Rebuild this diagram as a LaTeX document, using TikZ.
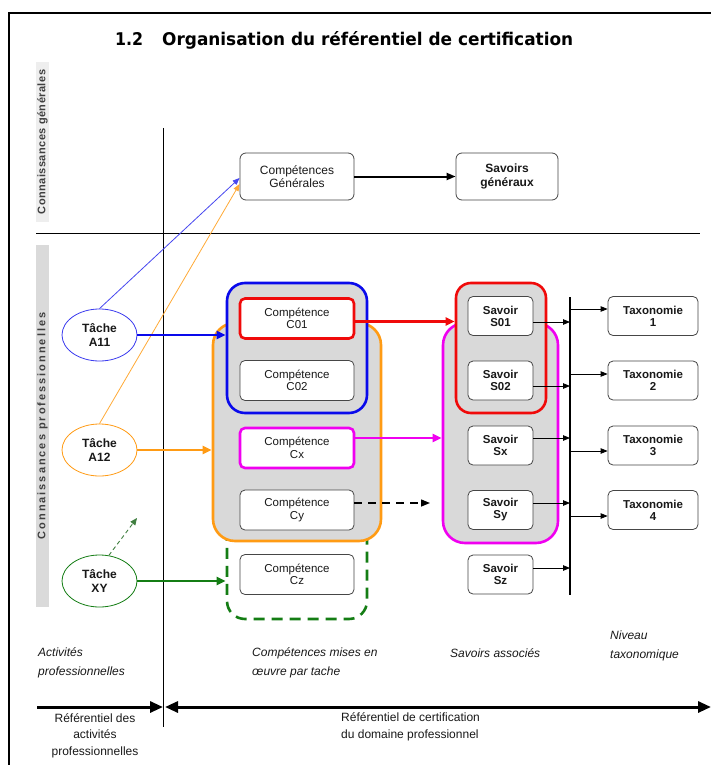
\documentclass[tikz,border=0pt]{standalone}
\usepackage{fontspec}
\setmainfont{Liberation Sans}
\newfontfamily\titlefont{DejaVu Sans}
\usetikzlibrary{arrows.meta,shapes.geometric,calc}
\definecolor{cblue}{RGB}{10,10,235}
\definecolor{cred}{RGB}{240,10,10}
\definecolor{cmag}{RGB}{240,0,240}
\definecolor{corange}{RGB}{255,155,20}
\definecolor{cgreen}{RGB}{20,125,20}
\definecolor{grpgray}{RGB}{217,217,217}
\definecolor{bandgray}{RGB}{218,218,218}
\definecolor{boxline}{RGB}{70,70,70}
\definecolor{txt}{RGB}{25,25,25}
\begin{document}
\begin{tikzpicture}[x=1pt,y=-1pt,
  box/.style={draw=boxline, line width=0.8pt, rounded corners=5pt, fill=white, align=center, inner sep=0pt, text=txt},
  cbox/.style={box, minimum width=114pt, minimum height=40pt, font=\fontsize{11.5}{12.5}\selectfont},
  sbox/.style={box, minimum width=65pt, minimum height=39pt, font=\bfseries\fontsize{11.5}{12}\selectfont},
  tbox/.style={box, minimum width=90pt, minimum height=39pt, font=\bfseries\fontsize{11.5}{12}\selectfont},
  task/.style={ellipse, draw, line width=0.8pt, minimum width=75pt, minimum height=52pt, inner sep=0pt, align=center, font=\bfseries\fontsize{12}{14}\selectfont, fill=white, text=txt},
  grp/.style={draw, rounded corners=#1, line width=2.6pt, fill=grpgray, inner sep=0pt},
  thinarrow/.style={line width=0.8pt, -{Triangle[length=7pt,width=5.5pt]}},
  thickarrow/.style={line width=2.6pt, -{Triangle[length=9pt,width=8pt]}},
  bigtip/.tip={Triangle[length=13pt,width=11pt]},
  lbl/.style={inner sep=0pt, align=left, text=txt, font=\itshape\fontsize{12}{19}\selectfont},
  reg/.style={inner sep=0pt, text=txt, font=\fontsize{12}{16.5}\selectfont},
  band/.style={rotate=90, inner sep=0pt, minimum height=13pt, text=black!75, font=\bfseries\fontsize{11}{11}\selectfont}
]
\useasboundingbox (0,0) rectangle (711,765);
\fill[white] (0,0) rectangle (711,765);

% frame
\coordinate (fBL) at (9,765);
\coordinate (fTL) at (9,13);
\coordinate (fTR) at (711,13);
\draw[line width=2.5pt] (fBL) -- (fTL) -- (fTR);

% title
\node[anchor=base west, inner sep=0pt] (tnum) at (115,46) {\resizebox{28pt}{13pt}{\titlefont\bfseries 1.2}};
\node[anchor=base west, inner sep=0pt] (ttl) at (162,46) {\resizebox{411pt}{14pt}{\titlefont\bfseries Organisation du référentiel de certification}};

% left bands
\node[band, fill=bandgray!45, minimum width=160pt] (kg) at (42.5,142) {\addfontfeatures{LetterSpace=4}Connaissances générales};
\node[band, fill=bandgray, minimum width=362pt] (kp) at (42.5,426) {\addfontfeatures{LetterSpace=18}Connaissances professionnelles};

% separators
\coordinate (hL) at (36,233);
\coordinate (hR) at (700,233);
\draw[line width=1pt] (hL) -- (hR);
\coordinate (vT) at (163,128);
\coordinate (vB) at (163,727);
\draw[line width=1pt] (vT) -- (vB);

% general row
\node[box, minimum width=114pt, minimum height=47pt, rounded corners=6pt, font=\fontsize{12}{13.5}\selectfont] (CG) at (297,176.5) {Compétences\\Générales};
\node[box, minimum width=102pt, minimum height=47pt, rounded corners=6pt, font=\bfseries\fontsize{12}{13.5}\selectfont] (SG) at (507,176.5) {Savoirs\\généraux};
\draw[line width=2pt, -{Triangle[length=9pt,width=7pt]}] (CG.east) -- (SG.west);

% groups
\node[draw=cgreen, line width=2.6pt, rounded corners=18pt, dash pattern=on 11pt off 7pt, minimum width=140pt, minimum height=119pt, inner sep=0pt] (gGreen) at (297,559.5) {};
\node[grp=22pt, draw=corange, minimum width=168pt, minimum height=218pt] (gOrange) at (297,432) {};
\node[grp=18pt, draw=cblue, minimum width=140pt, minimum height=130pt] (gBlue) at (297,348) {};
\node[grp=22pt, draw=cmag, minimum width=115pt, minimum height=220pt] (gMag) at (500.5,433) {};
\node[grp=15pt, draw=cred, minimum width=90pt, minimum height=130pt] (gRed) at (501,348) {};

% competences
\node[cbox, draw=cred, line width=2.6pt] (C01) at (297,318.5) {Compétence\\C01};
\node[cbox] (C02) at (297,380.5) {Compétence\\C02};
\node[cbox, draw=cmag, line width=2.6pt] (Cx) at (297,448) {Compétence\\Cx};
\node[cbox] (Cy) at (297,510) {Compétence\\Cy};
\node[cbox] (Cz) at (297,574.5) {Compétence\\Cz};

% savoirs
\node[sbox] (S01) at (500.5,316) {Savoir\\S01};
\node[sbox] (S02) at (500.5,380.5) {Savoir\\S02};
\node[sbox] (Sx) at (500.5,445.5) {Savoir\\Sx};
\node[sbox] (Sy) at (500.5,510) {Savoir\\Sy};
\node[sbox] (Sz) at (500.5,574.5) {Savoir\\Sz};

% taxonomies
\node[tbox] (T1) at (653,316) {Taxonomie\\1};
\node[tbox] (T2) at (653,380.5) {Taxonomie\\2};
\node[tbox] (T3) at (653,445.5) {Taxonomie\\3};
\node[tbox] (T4) at (653,510) {Taxonomie\\4};

% tasks
\node[task, draw=cblue!80] (A11) at (99.5,335) {Tâche\\A11};
\node[task, draw=corange] (A12) at (99.5,450) {Tâche\\A12};
\node[task, draw=cgreen] (XY) at (99.5,581) {Tâche\\XY};

% task connectors
\draw[thinarrow, cblue!75] (A11.north) -- ([yshift=-1.5pt]CG.west);
\draw[thinarrow, corange!85] (A12.north) -- ([yshift=-7.5pt]CG.west);
\draw[thickarrow, cblue] (A11.east) -- (A11.east -| gBlue.west);
\draw[thickarrow, corange] (A12.east) -- (A12.east -| gOrange.west);
\draw[thickarrow, cgreen] (XY.east) -- (XY.east -| gGreen.west);
\coordinate (xyEnd) at (137,518);
\draw[line width=0.9pt, dash pattern=on 4pt off 3pt, cgreen!60!gray, -{Triangle[length=7pt,width=6pt]}] (XY.70) -- (xyEnd);

% competence -> savoir connectors
\coordinate (c01o) at ([yshift=-3pt]C01.east);
\draw[thickarrow, cred] (c01o) -- (c01o -| gRed.west);
\coordinate (cxo) at ([yshift=10pt]Cx.east);
\draw[thickarrow, cmag] (cxo) -- (cxo -| gMag.west);
\coordinate (cyo) at ([yshift=7pt]Cy.east);
\coordinate (cyEnd) at (430,503);
\draw[line width=1.4pt, dash pattern=on 8pt off 6pt, -{Triangle[length=9pt,width=7pt]}] (cyo) -- (cyEnd);

% bus
\coordinate (busT) at (570,297);
\coordinate (busB) at (570,595);
\draw[line width=1.3pt] (busT) -- (busB);
\coordinate (s1o) at ([yshift=-6pt]S01.east);
\coordinate (s2o) at ([yshift=-5.5pt]S02.east);
\coordinate (sxo) at ([yshift=7.5pt]Sx.east);
\coordinate (syo) at ([yshift=7pt]Sy.east);
\coordinate (szo) at ([yshift=6.5pt]Sz.east);
\foreach \s in {s1o,s2o,sxo,syo,szo}
  \draw[thinarrow] (\s) -- (\s -| busT);
\coordinate (t1i) at ([yshift=7pt]T1.west);
\coordinate (t2i) at ([yshift=6.5pt]T2.west);
\coordinate (t3i) at ([yshift=-5.5pt]T3.west);
\coordinate (t4i) at ([yshift=-6pt]T4.west);
\foreach \t in {t1i,t2i,t3i,t4i}
  \draw[thinarrow] (\t -| busT) -- (\t);

% bottom captions
\node[lbl, anchor=west] (la) at (38,662.5) {Activités\\professionnelles};
\node[lbl, anchor=west] (lc) at (252,662.5) {Compétences mises en\\œuvre par tache};
\node[lbl, anchor=west] (ls) at (450,653) {Savoirs associés};
\node[lbl, anchor=west] (ln) at (610,645.5) {Niveau\\taxonomique};

% bottom arrows
\coordinate (bl) at (37,707);
\coordinate (bm) at (163,707);
\coordinate (bm2) at (165,707);
\coordinate (br) at (711,707);
\draw[line width=3pt, -bigtip] (bl) -- (bm);
\draw[line width=3pt, bigtip-bigtip] (bm2) -- (br);

\node[reg, align=center] (ra) at (95,735.5) {Référentiel des\\activités\\professionnelles};
\node[reg, align=left, anchor=west] (rc) at (341,727) {Référentiel de certification\\du domaine professionnel};
\end{tikzpicture}
\end{document}
